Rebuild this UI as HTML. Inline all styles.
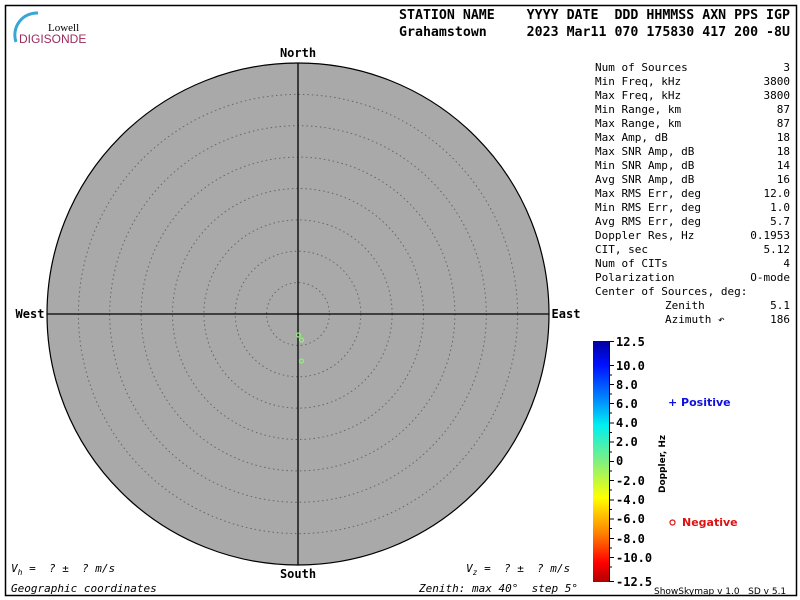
<!DOCTYPE html>
<html><head><meta charset="utf-8"><style>
body{margin:0;background:#fff}
svg{display:block}
text{font-family:"DejaVu Sans Mono","Liberation Mono",monospace;white-space:pre}
</style></head><body>
<svg width="800" height="600" xmlns="http://www.w3.org/2000/svg">
<defs>
<linearGradient id="cb" x1="0" y1="0" x2="0" y2="1">
<stop offset="0" stop-color="#0000a0"/>
<stop offset="0.1" stop-color="#0010ff"/>
<stop offset="0.25" stop-color="#0090ff"/>
<stop offset="0.35" stop-color="#00f0f0"/>
<stop offset="0.5" stop-color="#80f080"/>
<stop offset="0.65" stop-color="#ffff00"/>
<stop offset="0.8" stop-color="#ff8000"/>
<stop offset="0.92" stop-color="#ff0000"/>
<stop offset="1" stop-color="#b00000"/>
</linearGradient>
</defs>
<rect x="5.5" y="5.5" width="791" height="590" fill="#fff" stroke="#000" stroke-width="1.5"/>
<path d="M16,42 A22,22 0 0 1 38,13" fill="none" stroke="#3aa6d6" stroke-width="3"/>
<text x="48" y="31" font-size="11" style="font-family:'Liberation Serif',serif">Lowell</text>
<text x="19" y="43" font-size="12" fill="#9b2b5b" style="font-family:'Liberation Sans',sans-serif">DIGISONDE</text>
<g font-size="13" font-weight="bold">
<text x="399" y="19" textLength="391" lengthAdjust="spacingAndGlyphs">STATION NAME    YYYY DATE  DDD HHMMSS AXN PPS IGP</text>
<text x="399" y="36" textLength="391" lengthAdjust="spacingAndGlyphs">Grahamstown     2023 Mar11 070 175830 417 200 -8U</text>
</g>
<circle cx="298" cy="314" r="251" fill="#a9a9a9" stroke="#000" stroke-width="1.2"/>
<g fill="none" stroke="#666" stroke-width="1" stroke-dasharray="1.5,3">
<circle cx="298" cy="314" r="31.4"/><circle cx="298" cy="314" r="62.8"/><circle cx="298" cy="314" r="94.1"/>
<circle cx="298" cy="314" r="125.5"/><circle cx="298" cy="314" r="156.9"/><circle cx="298" cy="314" r="188.3"/>
<circle cx="298" cy="314" r="219.6"/>
</g>
<line x1="298" y1="63" x2="298" y2="565" stroke="#000" stroke-width="1.3"/>
<line x1="47" y1="314" x2="549" y2="314" stroke="#000" stroke-width="1.3"/>
<g fill="none" stroke="#8ef07a" stroke-width="1.3">
<circle cx="298.5" cy="335" r="2"/><circle cx="301.5" cy="340" r="2"/><circle cx="301.5" cy="361" r="2"/>
</g>
<g font-size="12" font-weight="bold" style="font-family:'DejaVu Sans',sans-serif" text-anchor="middle">
<text x="298" y="57" style="font-family:'DejaVu Sans Mono',monospace">North</text>
<text x="298" y="578">South</text>
<text x="30" y="318">West</text>
<text x="566" y="318">East</text>
</g>
<g font-size="11">
<text x="595" y="71">Num of Sources</text><text x="790" y="71" text-anchor="end">3</text>
<text x="595" y="85">Min Freq, kHz</text><text x="790" y="85" text-anchor="end">3800</text>
<text x="595" y="99">Max Freq, kHz</text><text x="790" y="99" text-anchor="end">3800</text>
<text x="595" y="113">Min Range, km</text><text x="790" y="113" text-anchor="end">87</text>
<text x="595" y="127">Max Range, km</text><text x="790" y="127" text-anchor="end">87</text>
<text x="595" y="141">Max Amp, dB</text><text x="790" y="141" text-anchor="end">18</text>
<text x="595" y="155">Max SNR Amp, dB</text><text x="790" y="155" text-anchor="end">18</text>
<text x="595" y="169">Min SNR Amp, dB</text><text x="790" y="169" text-anchor="end">14</text>
<text x="595" y="183">Avg SNR Amp, dB</text><text x="790" y="183" text-anchor="end">16</text>
<text x="595" y="197">Max RMS Err, deg</text><text x="790" y="197" text-anchor="end">12.0</text>
<text x="595" y="211">Min RMS Err, deg</text><text x="790" y="211" text-anchor="end">1.0</text>
<text x="595" y="225">Avg RMS Err, deg</text><text x="790" y="225" text-anchor="end">5.7</text>
<text x="595" y="239">Doppler Res, Hz</text><text x="790" y="239" text-anchor="end">0.1953</text>
<text x="595" y="253">CIT, sec</text><text x="790" y="253" text-anchor="end">5.12</text>
<text x="595" y="267">Num of CITs</text><text x="790" y="267" text-anchor="end">4</text>
<text x="595" y="281">Polarization</text><text x="790" y="281" text-anchor="end">O-mode</text>
<text x="595" y="295">Center of Sources, deg:</text>
<text x="665" y="309">Zenith</text><text x="790" y="309" text-anchor="end">5.1</text>
<text x="665" y="323">Azimuth ↶</text><text x="790" y="323" text-anchor="end">186</text>
</g>
<rect x="593" y="341" width="16" height="241" fill="url(#cb)"/>
<g stroke="#000" stroke-width="1">
<line x1="609.5" y1="341" x2="609.5" y2="582"/>
<line x1="609" y1="341.5" x2="614" y2="341.5"/>
<line x1="609" y1="365.5" x2="614" y2="365.5"/><line x1="609" y1="375" x2="612" y2="375"/>
<line x1="609" y1="384.5" x2="614" y2="384.5"/><line x1="609" y1="394" x2="612" y2="394"/>
<line x1="609" y1="403.5" x2="614" y2="403.5"/><line x1="609" y1="413" x2="612" y2="413"/>
<line x1="609" y1="423" x2="614" y2="423"/><line x1="609" y1="432.5" x2="612" y2="432.5"/>
<line x1="609" y1="442" x2="614" y2="442"/><line x1="609" y1="452" x2="612" y2="452"/>
<line x1="609" y1="461.5" x2="614" y2="461.5"/><line x1="609" y1="471" x2="612" y2="471"/>
<line x1="609" y1="480.5" x2="614" y2="480.5"/><line x1="609" y1="490" x2="612" y2="490"/>
<line x1="609" y1="500" x2="614" y2="500"/><line x1="609" y1="509.5" x2="612" y2="509.5"/>
<line x1="609" y1="519" x2="614" y2="519"/><line x1="609" y1="528.5" x2="612" y2="528.5"/>
<line x1="609" y1="538.5" x2="614" y2="538.5"/><line x1="609" y1="548" x2="612" y2="548"/>
<line x1="609" y1="557.5" x2="614" y2="557.5"/><line x1="609" y1="567" x2="612" y2="567"/>
<line x1="609" y1="581.5" x2="614" y2="581.5"/>
</g>
<g font-size="12" font-weight="bold" style="font-family:'DejaVu Sans',sans-serif">
<text x="616" y="346">12.5</text><text x="616" y="370">10.0</text><text x="616" y="389">8.0</text>
<text x="616" y="408">6.0</text><text x="616" y="427">4.0</text><text x="616" y="446">2.0</text>
<text x="616" y="465">0</text><text x="616" y="485">-2.0</text><text x="616" y="504">-4.0</text>
<text x="616" y="523">-6.0</text><text x="616" y="543">-8.0</text><text x="616" y="562">-10.0</text>
<text x="616" y="586">-12.5</text>
</g>
<text transform="translate(665,493) rotate(-90)" font-size="9" font-weight="bold" style="font-family:'DejaVu Sans',sans-serif">Doppler, Hz</text>
<text x="668" y="406" font-size="11" font-weight="bold" fill="#1010e0" style="font-family:'DejaVu Sans',sans-serif">+ Positive</text>
<circle cx="672.5" cy="522.5" r="2.5" fill="none" stroke="#e01010" stroke-width="1.2"/>
<text x="682" y="526" font-size="11" font-weight="bold" fill="#e01010" style="font-family:'DejaVu Sans',sans-serif">Negative</text>
<text x="654" y="594" font-size="9" style="font-family:'DejaVu Sans',sans-serif">ShowSkymap v 1.0   SD v 5.1</text>
<g font-size="11" font-style="italic">
<text x="11" y="572">V<tspan font-size="8" dy="3">h</tspan><tspan dy="-3"> =  ? ±  ? m/s</tspan></text>
<text x="466" y="572">V<tspan font-size="8" dy="3">z</tspan><tspan dy="-3"> =  ? ±  ? m/s</tspan></text>
<text x="11" y="592">Geographic coordinates</text>
<text x="419" y="592">Zenith: max 40°  step 5°</text>
</g>
</svg>
</body></html>
